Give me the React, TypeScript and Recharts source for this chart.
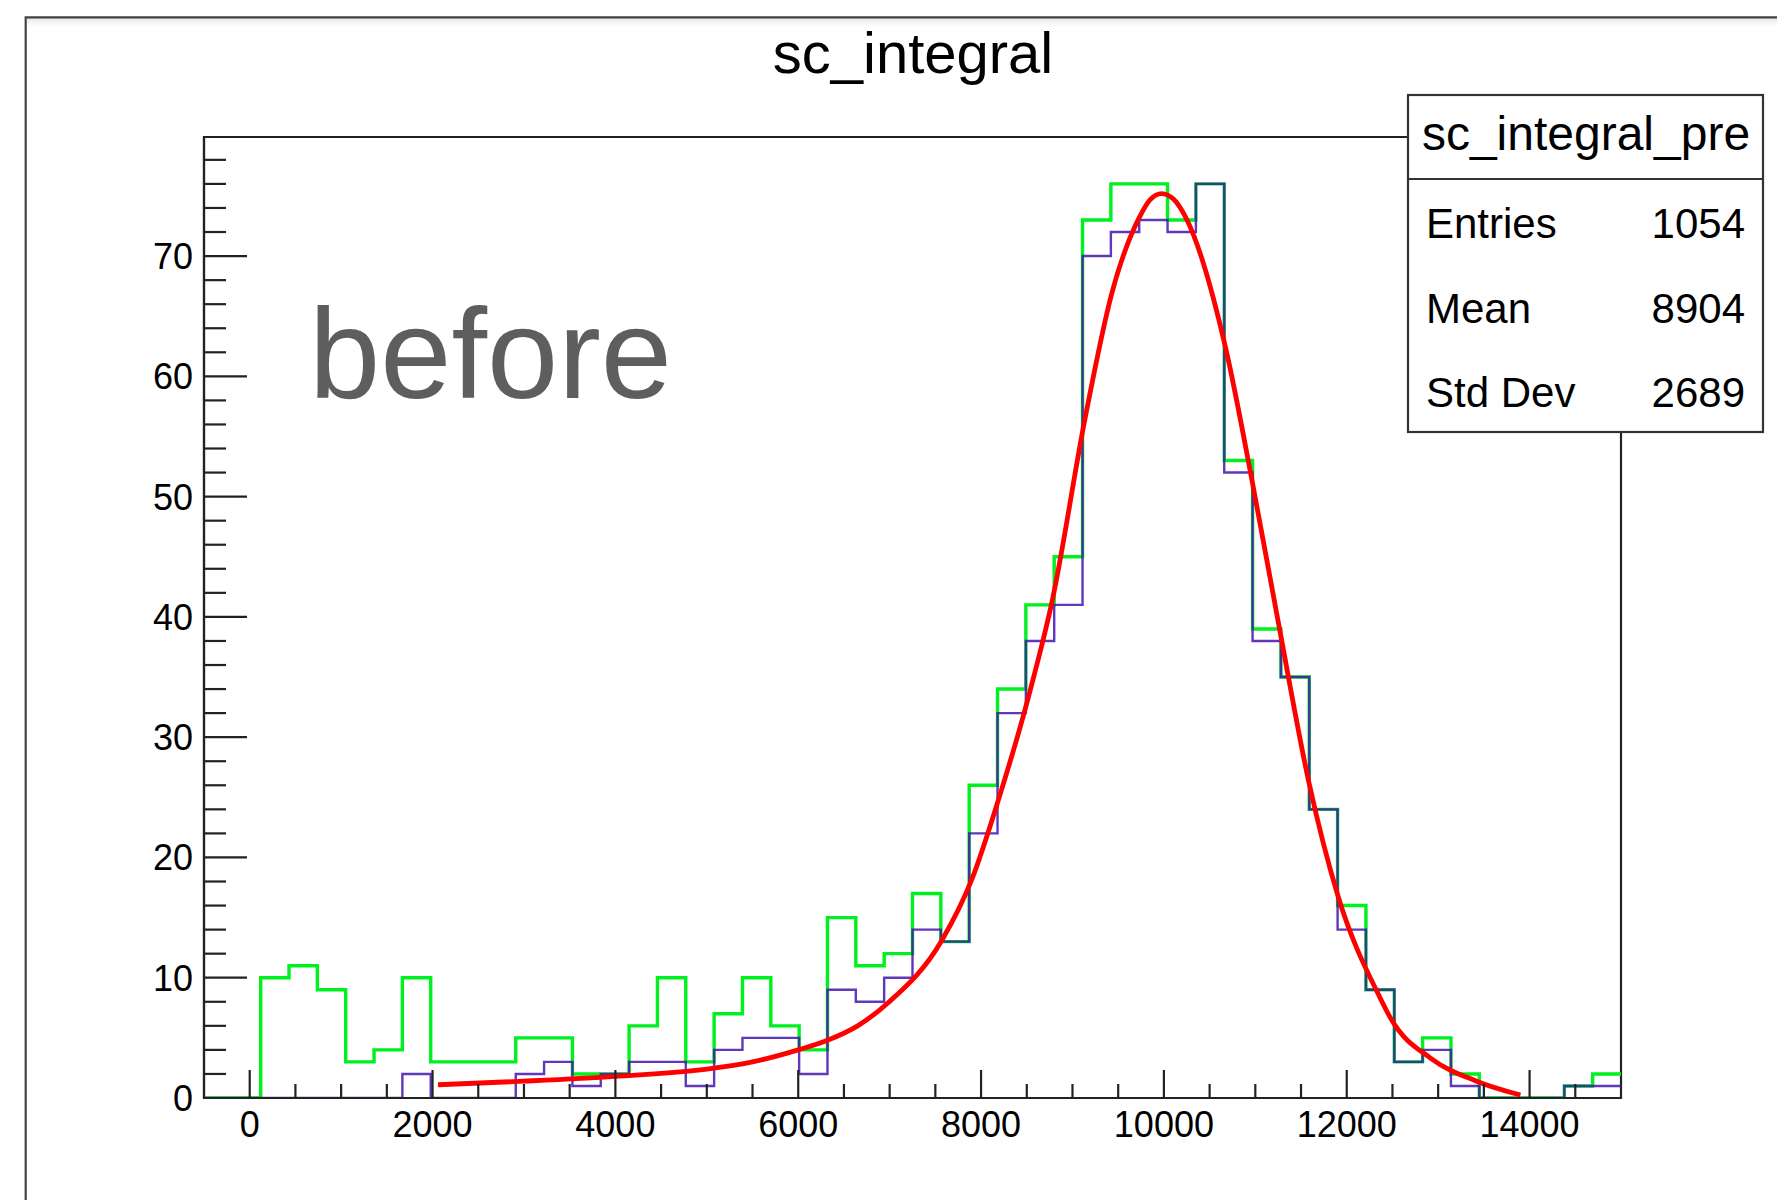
import React from 'react';
import { ComposedChart, Line, XAxis, YAxis, ReferenceArea } from 'recharts';

// ROOT-style histogram "sc_integral": two overlaid step histograms plus a fitted curve

const FONT = '"Liberation Sans", Arial, Helvetica, sans-serif';

// bin edges of the 50-bin histogram (-500 .. 15000)
const binEdges = [
  -500, -190, 120, 430, 740, 1050, 1360, 1670, 1980, 2290, 2600, 2910, 3220, 3530, 3840, 4150, 4460,
  4770, 5080, 5390, 5700, 6010, 6320, 6630, 6940, 7250, 7560, 7870, 8180, 8490, 8800, 9110, 9420,
  9730, 10040, 10350, 10660, 10970, 11280, 11590, 11900, 12210, 12520, 12830, 13140, 13450, 13760,
  14070, 14380, 14690, 15000,
];

// counts per bin
const greenCounts = [
  0, 0, 10, 11, 9, 3, 4, 10, 3, 3, 3, 5, 5, 2, 2, 6, 10, 3, 7, 10, 6, 4, 15, 11, 12, 17, 13, 26, 34,
  41, 45, 73, 76, 76, 73, 76, 53, 39, 35, 24, 16, 9, 3, 5, 2, 0, 0, 0, 1, 2,
];
const purpleCounts = [
  0, 0, 0, 0, 0, 0, 0, 2, 0, 0, 0, 2, 3, 1, 2, 3, 3, 1, 4, 5, 5, 2, 9, 8, 10, 14, 13, 22, 32, 38, 41,
  70, 72, 73, 72, 76, 52, 38, 35, 24, 14, 9, 3, 4, 1, 0, 0, 0, 1, 1,
];

// fitted curve
const fitX = [
  2060, 3000, 4000, 5000, 5500, 6000, 6320, 6650, 6980, 7570, 7900, 8190, 8520, 8780, 9140,
  9430, 9730, 9850, 9975, 10110, 10240, 10680, 10970, 11260, 11590, 11900, 12360, 12490, 12920,
  13420, 13900,
];
const fitY = [
  1.1, 1.4, 1.8, 2.4, 3.0, 4.0, 4.8, 6.0, 7.9, 13.1, 18.2, 24.8, 33.4, 41.4, 56.6, 66.9, 73.2,
  74.7, 75.2, 74.7, 73.2, 62.2, 51.1, 39.2, 26.1, 16.9, 8.4, 6.5, 3.3, 1.4, 0.25,
];

const xTicks = [
  0, 500, 1000, 1500, 2000, 2500, 3000, 3500, 4000, 4500, 5000, 5500, 6000, 6500, 7000, 7500, 8000,
  8500, 9000, 9500, 10000, 10500, 11000, 11500, 12000, 12500, 13000, 13500, 14000, 14500,
];
const xLabels = [0, 2000, 4000, 6000, 8000, 10000, 12000, 14000];
const yTicks = [
  0, 2, 4, 6, 8, 10, 12, 14, 16, 18, 20, 22, 24, 26, 28, 30, 32, 34, 36, 38, 40, 42, 44, 46, 48, 50,
  52, 54, 56, 58, 60, 62, 64, 66, 68, 70, 72, 74, 76, 78,
];
const yLabels = [0, 10, 20, 30, 40, 50, 60, 70];

const statNames = ['Entries', 'Mean', 'Std Dev'];
const statValues = ['1054', '8904', '2689'];

const X_MIN = -500;
const X_MAX = 15000;
const Y_MAX = 79.9;

function toSteps(counts: number[]) {
  return binEdges.map((x, i) => ({ x, y: counts[Math.min(i, counts.length - 1)] }));
}

const greenData = toSteps(greenCounts);
const purpleData = toSteps(purpleCounts);
const fitData = fitX.map((x, i) => ({ x, y: fitY[i] }));

// ticks point inward like ROOT's; props x/y are the axis-line position since tickSize/tickMargin are 0
function renderYTick(props: any) {
  const { x, y, payload } = props;
  const major = yLabels.includes(payload.value);
  return (
    <g key={`yt-${payload.value}`}>
      <line x1={x} x2={x + (major ? 43 : 22)} y1={y} y2={y} stroke="#222" strokeWidth={2.2} />
      {major && (
        <text x={x - 11} y={y + 13} textAnchor="end" fontSize={36} fontFamily={FONT} fill="#000">
          {payload.value}
        </text>
      )}
    </g>
  );
}

function renderXTick(props: any) {
  const { x, y, payload } = props;
  const major = xLabels.includes(payload.value);
  return (
    <g key={`xt-${payload.value}`}>
      <line x1={x} x2={x} y1={y} y2={y - (major ? 28 : 14)} stroke="#222" strokeWidth={2.2} />
      {major && (
        <text x={x} y={y + 39} textAnchor="middle" fontSize={36} fontFamily={FONT} fill="#000">
          {payload.value}
        </text>
      )}
    </g>
  );
}

export default function App() {
  return (
    <div style={{ position: 'absolute', left: 0, top: 0, width: 1777, height: 1200, overflow: 'hidden', background: '#fff' }}>
      <div style={{ position: 'absolute', left: 0, top: 0 }}>
        <ComposedChart width={1777} height={1200} margin={{ top: 137, right: 156, bottom: 101, left: 203 }}>
          <XAxis
            type="number"
            dataKey="x"
            domain={[X_MIN, X_MAX]}
            ticks={xTicks}
            interval={0}
            allowDataOverflow
            height={1}
            tickSize={0}
            tickMargin={0}
            tickLine={false}
            axisLine={{ stroke: '#222', strokeWidth: 2.2 }}
            tick={renderXTick}
          />
          <YAxis
            type="number"
            dataKey="y"
            domain={[0, Y_MAX]}
            ticks={yTicks}
            interval={0}
            allowDataOverflow
            width={1}
            tickSize={0}
            tickMargin={0}
            tickLine={false}
            axisLine={{ stroke: '#222', strokeWidth: 2.2 }}
            tick={renderYTick}
          />
          <ReferenceArea
            x1={X_MIN}
            x2={X_MAX}
            y1={0}
            y2={Y_MAX}
            fill="none"
            stroke="#222"
            strokeWidth={2.2}
            fillOpacity={0}
            ifOverflow="visible"
          />
          <Line
            data={greenData}
            dataKey="y"
            type="stepAfter"
            stroke="#00f020"
            strokeWidth={3.4}
            dot={false}
            isAnimationActive={false}
          />
          <Line
            data={purpleData}
            dataKey="y"
            type="stepAfter"
            stroke="#4514b0"
            strokeOpacity={0.85}
            strokeWidth={2.4}
            dot={false}
            isAnimationActive={false}
          />
          <Line
            data={fitData}
            dataKey="y"
            type="monotone"
            stroke="#ff0000"
            strokeWidth={4.8}
            dot={false}
            isAnimationActive={false}
          />
        </ComposedChart>
      </div>
      <svg
        width={1777}
        height={1200}
        style={{ position: 'absolute', left: 0, top: 0, pointerEvents: 'none' }}
        fontFamily={FONT}
      >
        <defs>
          <linearGradient id="canvasShade" x1="0" y1="0" x2="0" y2="1">
            <stop offset="0%" stopColor="#e4e4e4" />
            <stop offset="100%" stopColor="#ffffff" stopOpacity={0} />
          </linearGradient>
        </defs>
        {/* canvas frame */}
        <rect x={27} y={18} width={1760} height={12} fill="url(#canvasShade)" />
        <polyline points="25.7,1210 25.7,17.3 1790,17.3" fill="none" stroke="#444" strokeWidth={2.2} />

        {/* title */}
        <text x={913} y={73} textAnchor="middle" fontSize={58} fill="#000">
          sc_integral
        </text>

        {/* annotation */}
        <text x={309} y={398} fontSize={128} fill="#5e5e5e">
          before
        </text>

        {/* stats box */}
        <rect x={1408} y={95} width={355} height={337} fill="#fff" stroke="#333" strokeWidth={2.2} />
        <line x1={1408} x2={1763} y1={179} y2={179} stroke="#333" strokeWidth={2.2} />
        <text x={1586} y={150} textAnchor="middle" fontSize={48} fill="#000">
          sc_integral_pre
        </text>
        {statNames.map((name, i) => (
          <g key={name}>
            <text x={1426} y={238 + i * 84.5} fontSize={42} fill="#000">
              {name}
            </text>
            <text x={1745} y={238 + i * 84.5} textAnchor="end" fontSize={42} fill="#000">
              {statValues[i]}
            </text>
          </g>
        ))}
      </svg>
    </div>
  );
}
